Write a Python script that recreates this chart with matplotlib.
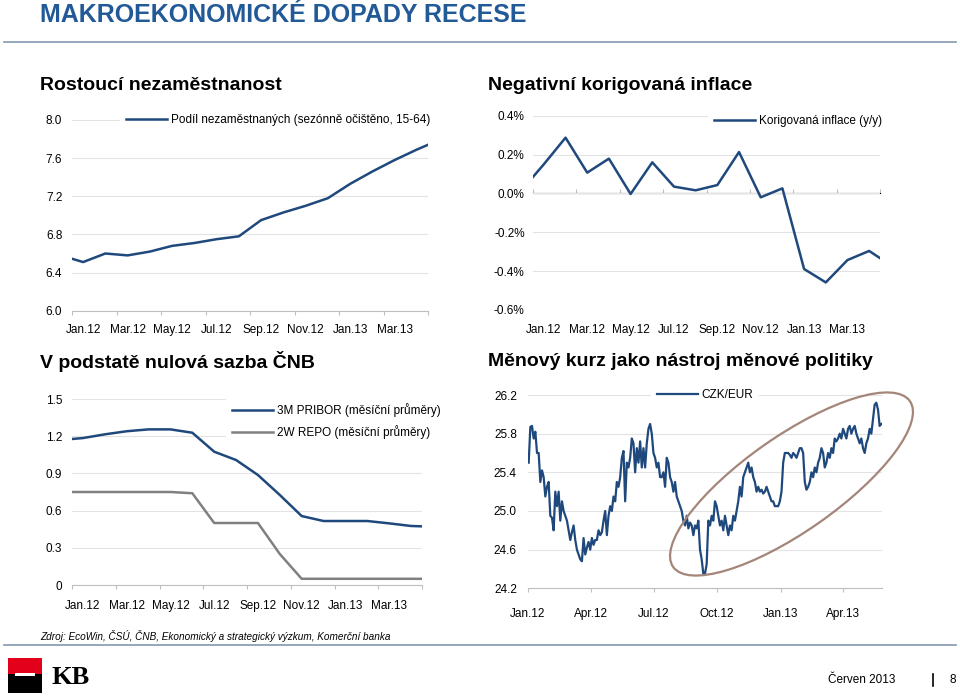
import matplotlib
matplotlib.use('Agg')
import matplotlib.pyplot as plt
from matplotlib.patches import Ellipse, Rectangle
from matplotlib.lines import Line2D
import numpy as np
import pandas as pd

plt.rcParams['font.family'] = ['Liberation Sans', 'DejaVu Sans']

W, H = 960, 696
BLUE = '#1F497D'
GRAY = '#808080'
GRID = '#e3e3e3'
AXIS = '#bfbfbf'
TITLE_BLUE = '#215A97'
FS = 8.5

# měsíční řady: Dec.11 .. May.13 (krajní body jsou oříznuté osou)
months = ['Dec.11', 'Jan.12', 'Feb.12', 'Mar.12', 'Apr.12', 'May.12', 'Jun.12',
          'Jul.12', 'Aug.12', 'Sep.12', 'Oct.12', 'Nov.12', 'Dec.12',
          'Jan.13', 'Feb.13', 'Mar.13', 'Apr.13', 'May.13']
unemployment = [6.58, 6.51, 6.60, 6.58, 6.62, 6.68, 6.71, 6.75, 6.78, 6.95,
                7.03, 7.10, 7.18, 7.33, 7.46, 7.58, 7.69, 7.79]
inflation = [0.02, 0.15, 0.287, 0.107, 0.179, -0.003, 0.16, 0.035, 0.016, 0.043,
             0.213, -0.02, 0.026, -0.389, -0.458, -0.343, -0.296, -0.37]
pribor = [1.17, 1.185, 1.215, 1.24, 1.255, 1.255, 1.228, 1.075, 1.008, 0.887,
          0.726, 0.556, 0.516, 0.516, 0.516, 0.497, 0.476, 0.47]
repo = [0.75, 0.75, 0.75, 0.75, 0.75, 0.75, 0.74, 0.50, 0.50, 0.50,
        0.25, 0.05, 0.05, 0.05, 0.05, 0.05, 0.05, 0.05]
month_labels = ['Jan.12', 'Mar.12', 'May.12', 'Jul.12', 'Sep.12', 'Nov.12', 'Jan.13', 'Mar.13']

# denní kurz CZK/EUR, 2.1.2012 - 27.5.2013
czk = [25.50, 25.87, 25.88, 25.75, 25.82, 25.60, 25.60, 25.30, 25.42, 25.35,
       25.15, 25.25, 25.30, 24.95, 24.93, 24.80, 25.20, 25.05, 25.20, 24.90,
       25.10, 25.00, 24.95, 24.90, 24.80, 24.70, 24.78, 24.85, 24.70, 24.60,
       24.55, 24.50, 24.48, 24.72, 24.55, 24.62, 24.68, 24.60, 24.72, 24.65,
       24.70, 24.70, 24.80, 24.75, 24.78, 24.90, 25.00, 24.75, 24.95, 25.05,
       25.00, 25.15, 25.10, 25.30, 25.25, 25.35, 25.55, 25.62, 25.10, 25.50,
       25.45, 25.55, 25.75, 25.70, 25.40, 25.65, 25.50, 25.72, 25.45, 25.65,
       25.45, 25.70, 25.85, 25.90, 25.80, 25.60, 25.55, 25.45, 25.50, 25.35,
       25.35, 25.40, 25.25, 25.55, 25.50, 25.35, 25.30, 25.20, 25.30, 25.15,
       25.10, 25.05, 25.00, 24.90, 24.85, 24.95, 24.82, 24.88, 24.85, 24.75,
       24.85, 24.82, 24.90, 24.60, 24.50, 24.35, 24.35, 24.45, 24.90, 24.85,
       24.95, 24.90, 25.10, 25.05, 24.95, 24.85, 24.90, 24.80, 24.95, 24.85,
       24.75, 24.85, 24.80, 24.95, 24.90, 25.00, 25.10, 25.25, 25.15, 25.35,
       25.40, 25.45, 25.50, 25.40, 25.45, 25.35, 25.30, 25.20, 25.25, 25.20,
       25.22, 25.18, 25.20, 25.25, 25.20, 25.15, 25.10, 25.10, 25.05, 25.05,
       25.05, 25.10, 25.20, 25.50, 25.60, 25.60, 25.60, 25.58, 25.55, 25.60,
       25.58, 25.55, 25.60, 25.65, 25.65, 25.60, 25.30, 25.22, 25.25, 25.30,
       25.40, 25.35, 25.45, 25.40, 25.50, 25.55, 25.65, 25.60, 25.45, 25.50,
       25.60, 25.55, 25.65, 25.60, 25.75, 25.72, 25.75, 25.80, 25.75, 25.85,
       25.80, 25.75, 25.85, 25.88, 25.80, 25.85, 25.88, 25.80, 25.75, 25.70,
       25.75, 25.65, 25.60, 25.70, 25.75, 25.85, 25.80, 25.95, 26.10, 26.12,
       26.05, 25.88, 25.90]
czk_dates = pd.date_range('2012-01-02', '2013-05-27', periods=len(czk))
czk_ticks = pd.to_datetime(['2012-01-01', '2012-04-01', '2012-07-01',
                            '2012-10-01', '2013-01-01', '2013-04-01'])
czk_labels = ['Jan.12', 'Apr.12', 'Jul.12', 'Oct.12', 'Jan.13', 'Apr.13']

fig = plt.figure(figsize=(W / 100, H / 100), dpi=100)


def box(x0, y0, x1, y1):
    # pixelové souřadnice (od levého horního rohu) -> zlomky obrázku
    return [x0 / W, 1 - y1 / H, (x1 - x0) / W, (y1 - y0) / H]


def style_axes(ax, ypad, xpad):
    for s in ['left', 'right', 'top']:
        ax.spines[s].set_visible(False)
    ax.spines['bottom'].set_color(AXIS)
    ax.yaxis.grid(True, color=GRID, lw=0.8)
    ax.set_axisbelow(True)
    ax.tick_params(axis='y', length=0, pad=ypad, labelsize=FS)
    ax.tick_params(axis='x', which='both', pad=xpad, labelsize=FS)
    ax.tick_params(axis='x', which='major', length=3, color=AXIS)
    ax.tick_params(axis='x', which='minor', length=0)


def month_xaxis(ax):
    ax.set_xlim(0, 16)
    ax.set_xticks(np.arange(0, 17, 2), [''] * 9)
    ax.set_xticks(np.arange(len(month_labels)) * 2 + 0.5, month_labels, minor=True)


def add_legend(ax, x, y, spacing=0.7):
    ax.legend(loc='center left', bbox_to_anchor=(x / W, 1 - y / H),
              bbox_transform=fig.transFigure, frameon=True, facecolor='white',
              edgecolor='none', framealpha=1, fancybox=False, fontsize=FS,
              handlelength=3.5, handletextpad=0.3, borderpad=0.5,
              borderaxespad=0, labelspacing=spacing)


mpos = np.arange(len(months)) - 0.5

# --- nezaměstnanost
ax1 = fig.add_axes(box(72, 120, 428, 310.7))
ax1.plot(mpos, unemployment, color=BLUE, lw=1.8,
         label='Podíl nezaměstnaných (sezónně očištěno, 15-64)')
ax1.set_ylim(6.0, 8.0)
ax1.set_yticks(np.arange(6.0, 8.01, 0.4))
ax1.set_yticklabels([f'{v:.1f}' for v in np.arange(6.0, 8.01, 0.4)])
month_xaxis(ax1)
style_axes(ax1, 7, 9.5)
add_legend(ax1, 120, 120)

# --- inflace
ax2 = fig.add_axes(box(533, 115.7, 880, 310))
ax2.plot(mpos, inflation, color=BLUE, lw=1.8, label='Korigovaná inflace (y/y)')
ax2.set_ylim(-0.6, 0.4)
infl_ticks = [-0.6, -0.4, -0.2, 0.0, 0.2, 0.4]
ax2.set_yticks(infl_ticks)
ax2.set_yticklabels([f'{v:.1f}%' for v in infl_ticks])
month_xaxis(ax2)
style_axes(ax2, 6, 10)
ax2.spines['bottom'].set_visible(False)
ax2.tick_params(axis='x', which='major', length=0)
zero_ax = ax2.secondary_xaxis(0.6)
zero_ax.set_xticks(np.arange(0, 17, 2), [''] * 9)
zero_ax.tick_params(length=3, color=AXIS)
zero_ax.spines['bottom'].set_color(AXIS)
add_legend(ax2, 708, 121)

# --- sazby
ax3 = fig.add_axes(box(72, 399, 422, 585))
ax3.plot(mpos, pribor, color=BLUE, lw=1.8, label='3M PRIBOR (měsíční průměry)')
ax3.plot(mpos, repo, color=GRAY, lw=1.8, label='2W REPO (měsíční průměry)')
ax3.set_ylim(0, 1.5)
rate_ticks = [0, 0.3, 0.6, 0.9, 1.2, 1.5]
ax3.set_yticks(rate_ticks)
ax3.set_yticklabels(['0'] + [f'{v:.1f}' for v in rate_ticks[1:]])
month_xaxis(ax3)
style_axes(ax3, 7, 11)
add_legend(ax3, 226, 421)

# --- kurz
ax4 = fig.add_axes(box(528, 395, 882, 588.3))
ax4.plot(czk_dates, czk, color=BLUE, lw=1.6, label='CZK/EUR')
ax4.set_ylim(24.2, 26.2)
fx_ticks = np.arange(24.2, 26.21, 0.4)
ax4.set_yticks(fx_ticks)
ax4.set_yticklabels([f'{v:.1f}' for v in fx_ticks])
ax4.set_xlim(pd.Timestamp('2012-01-01'), pd.Timestamp('2013-05-28'))
ax4.set_xticks(czk_ticks, czk_labels)
style_axes(ax4, 8, 11.5)
add_legend(ax4, 651, 395)

# zvýraznění posledního období
fig.add_artist(Ellipse((791.5 / 100, (H - 484) / 100), 2.89, 0.95, angle=35,
                       transform=fig.dpi_scale_trans, fill=False,
                       ec='#A4857A', lw=1.6, zorder=5))

# --- texty
fig.text(40 / W, 1 - 15 / H, 'MAKROEKONOMICKÉ DOPADY RECESE', fontsize=18,
         weight='bold', color=TITLE_BLUE, va='center')
fig.add_artist(Line2D([4 / W, 956 / W], [1 - 42 / H] * 2, color='#8497B0', lw=1.2))
fig.text(40 / W, 1 - 86 / H, 'Rostoucí nezaměstnanost', fontsize=14, weight='bold', va='center')
fig.text(488 / W, 1 - 86 / H, 'Negativní korigovaná inflace', fontsize=14, weight='bold', va='center')
fig.text(40 / W, 1 - 362 / H, 'V podstatě nulová sazba ČNB', fontsize=14, weight='bold', va='center')
fig.text(488 / W, 1 - 362 / H, 'Měnový kurz jako nástroj měnové politiky', fontsize=14,
         weight='bold', va='center')

fig.text(40 / W, 1 - 636 / H,
         'Zdroj: EcoWin, ČSÚ, ČNB, Ekonomický a strategický výzkum, Komerční banka',
         fontsize=7.2, style='italic', va='center')
fig.add_artist(Line2D([4 / W, 956 / W], [1 - 645 / H] * 2, color='#8497B0', lw=1.2))

# logo KB
fig.add_artist(Rectangle((8 / W, 1 - 674 / H), 34 / W, 16 / H, color='#E2001A', lw=0))
fig.add_artist(Rectangle((8 / W, 1 - 693 / H), 34 / W, 19 / H, color='black', lw=0))
fig.add_artist(Rectangle((15 / W, 1 - 676 / H), 20 / W, 3 / H, color='white', lw=0))
fig.text(52 / W, 1 - 678 / H, 'KB', family='Liberation Serif', fontsize=19,
         weight='bold', va='center')

fig.text(895 / W, 1 - 680 / H, 'Červen 2013', fontsize=8.5, ha='right', va='center')
fig.add_artist(Line2D([933 / W] * 2, [1 - 674 / H, 1 - 686 / H], color='black', lw=1.2))
fig.text(953 / W, 1 - 680 / H, '8', fontsize=8.5, ha='center', va='center')

fig.savefig('out.png', dpi=100)
